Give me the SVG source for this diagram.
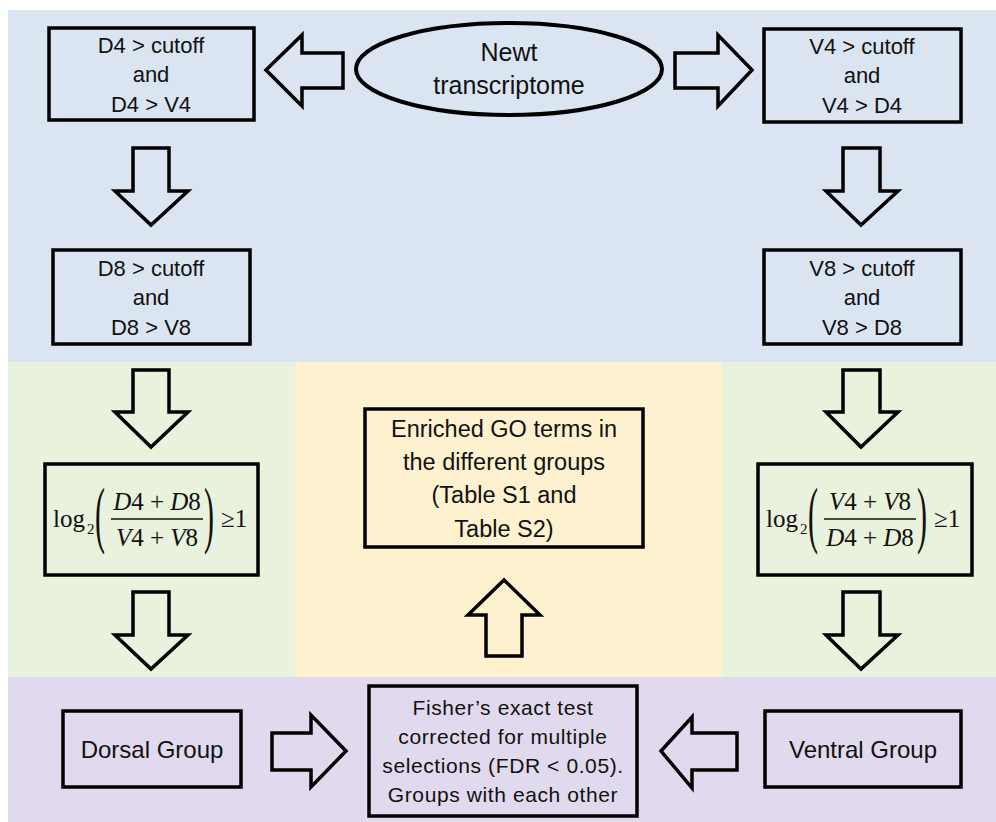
<svg xmlns="http://www.w3.org/2000/svg" width="996" height="822" viewBox="0 0 996 822">
<style>
.box{fill:none;stroke:#000;stroke-width:3.5}
.arr{fill:none;stroke:#000;stroke-width:3.5;stroke-linejoin:miter}
.t{font-family:"Liberation Sans",Arial,sans-serif;font-size:22px;text-anchor:middle;fill:#111}
.f{font-size:21px;letter-spacing:0.6px}
.m{font-family:"Liberation Serif","Times New Roman",serif;font-size:25px;fill:#111}
.mc{text-anchor:middle}
.i{font-style:italic}
</style>
<rect width="996" height="822" fill="#fff"/>
<g id="bands">
<rect x="8" y="10" width="988" height="352" fill="#dbe5f1"/>
<rect x="8" y="362" width="287" height="315" fill="#e8f2dc"/>
<rect x="295" y="362" width="427" height="315" fill="#fdf1cf"/>
<rect x="722" y="362" width="274" height="315" fill="#e8f2dc"/>
<rect x="8" y="677" width="988" height="145" fill="#e1d9ed"/>
</g>
<g id="connectors">
<polygon class="arr" points="266,70 302,35 302,53 343,53 343,88 302,88 302,106"/>
<polygon class="arr" points="752,70 718,35 718,53 675,53 675,88 718,88 718,106"/>
<polygon class="arr" points="133,148 169,148 169,191 188,191 151,225 115,191 133,191"/>
<polygon class="arr" points="843,148 880,148 880,191 898,191 861,225 826,191 843,191"/>
<polygon class="arr" points="133,370 169,370 169,412 188,412 151,447 115,412 133,412"/>
<polygon class="arr" points="843,370 880,370 880,412 898,412 861,447 826,412 843,412"/>
<polygon class="arr" points="133,592 169,592 169,635 188,635 151,669 115,635 133,635"/>
<polygon class="arr" points="843,592 880,592 880,635 898,635 861,669 826,635 843,635"/>
<polygon class="arr" points="504,580 540,615 522,615 522,656 486,656 486,615 468,615"/>
<polygon class="arr" points="346,751 311,715 311,733 272,733 272,770 311,770 311,787"/>
<polygon class="arr" points="661,751 692,717 692,733 737,733 737,770 692,770 692,788"/>
</g>
<g id="newt">
<ellipse cx="509" cy="69" rx="153" ry="46" fill="none" stroke="#000" stroke-width="4"/>
<text class="t" x="509" y="61" style="font-size:25px">Newt</text>
<text class="t" x="509" y="94" style="font-size:25px">transcriptome</text>
</g>
<g id="d4">
<rect class="box" x="49" y="28" width="205" height="92"/>
<text class="t" x="151" y="53">D4 &gt; cutoff</text>
<text class="t" x="151" y="82">and</text>
<text class="t" x="151" y="112">D4 &gt; V4</text>
</g>
<g id="v4">
<rect class="box" x="764" y="29" width="197" height="93"/>
<text class="t" x="862" y="54">V4 &gt; cutoff</text>
<text class="t" x="862" y="83">and</text>
<text class="t" x="862" y="113">V4 &gt; D4</text>
</g>
<g id="d8">
<rect class="box" x="53" y="250" width="197" height="94"/>
<text class="t" x="151" y="276">D8 &gt; cutoff</text>
<text class="t" x="151" y="305">and</text>
<text class="t" x="151" y="335">D8 &gt; V8</text>
</g>
<g id="v8">
<rect class="box" x="764" y="250" width="197" height="94"/>
<text class="t" x="862" y="276">V8 &gt; cutoff</text>
<text class="t" x="862" y="305">and</text>
<text class="t" x="862" y="335">V8 &gt; D8</text>
</g>
<g id="ratio-d">
<rect class="box" x="45" y="464" width="213" height="111"/>
<text class="m" x="53" y="527">log</text>
<text class="m" x="87" y="534" style="font-size:15px">2</text>
<text class="m" transform="translate(95,538.5) scale(1,2.5)" style="font-size:30px">(</text>
<text class="m mc" x="157" y="510"><tspan class="i">D</tspan>4 + <tspan class="i">D</tspan>8</text>
<line x1="111" y1="519" x2="203" y2="519" stroke="#111" stroke-width="1.4"/>
<text class="m mc" x="157" y="546"><tspan class="i">V</tspan>4 + <tspan class="i">V</tspan>8</text>
<text class="m" transform="translate(204,538.5) scale(1,2.5)" style="font-size:30px">)</text>
<text class="m" x="221" y="527">≥1</text>
</g>
<g id="ratio-v">
<rect class="box" x="758" y="464" width="214" height="111"/>
<text class="m" x="766" y="527">log</text>
<text class="m" x="800" y="534" style="font-size:15px">2</text>
<text class="m" transform="translate(808,538.5) scale(1,2.5)" style="font-size:30px">(</text>
<text class="m mc" x="870" y="510"><tspan class="i">V</tspan>4 + <tspan class="i">V</tspan>8</text>
<line x1="824" y1="519" x2="916" y2="519" stroke="#111" stroke-width="1.4"/>
<text class="m mc" x="870" y="546"><tspan class="i">D</tspan>4 + <tspan class="i">D</tspan>8</text>
<text class="m" transform="translate(917,538.5) scale(1,2.5)" style="font-size:30px">)</text>
<text class="m" x="934" y="527">≥1</text>
</g>
<g id="enriched">
<rect class="box" x="365" y="409" width="278" height="138"/>
<text class="t" x="504" y="437" style="font-size:23.5px">Enriched GO terms in</text>
<text class="t" x="504" y="470" style="font-size:23.5px">the different groups</text>
<text class="t" x="504" y="503" style="font-size:23.5px">(Table S1 and</text>
<text class="t" x="504" y="537" style="font-size:23.5px">Table S2)</text>
</g>
<g id="dorsal">
<rect class="box" x="63" y="711" width="178" height="76"/>
<text class="t" x="152" y="758" style="font-size:24px">Dorsal Group</text>
</g>
<g id="fisher">
<rect class="box" x="369" y="686" width="268" height="130"/>
<text class="t f" x="503" y="715">Fisher’s exact test</text>
<text class="t f" x="503" y="744">corrected for multiple</text>
<text class="t f" x="503" y="773">selections (FDR &lt; 0.05).</text>
<text class="t f" x="503" y="802">Groups with each other</text>
</g>
<g id="ventral">
<rect class="box" x="765" y="711" width="196" height="76"/>
<text class="t" x="863" y="758" style="font-size:24px">Ventral Group</text>
</g>
</svg>
